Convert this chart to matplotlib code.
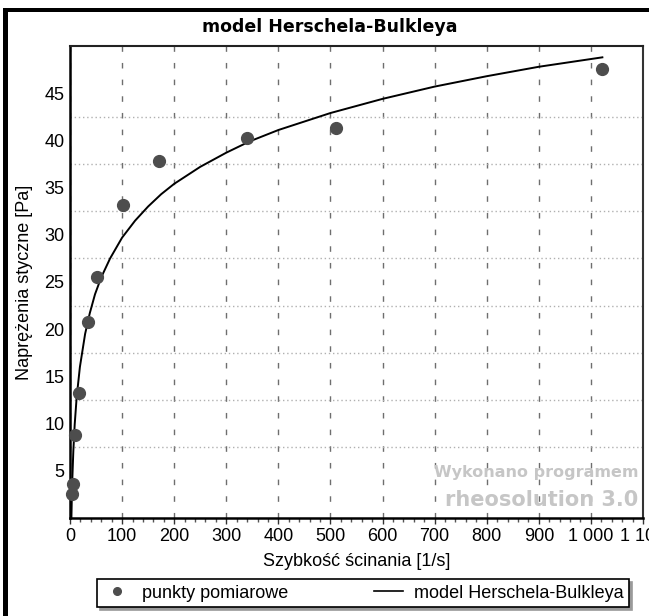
import matplotlib
matplotlib.use("Agg")
import matplotlib.pyplot as plt
from matplotlib.ticker import FixedLocator, MultipleLocator, FuncFormatter
from matplotlib.patches import Rectangle
from matplotlib.lines import Line2D

# measured points (shear rate [1/s], shear stress [Pa])
shear_rate = [3.4, 5.1, 10.2, 17.0, 34.1, 51.1, 102.2, 170.3, 340.6, 510.9, 1021.8]
stress = [2.5, 3.6, 8.8, 13.2, 20.8, 25.5, 33.2, 37.8, 40.3, 41.3, 47.6]

# model curve
model_rate = [2.7, 3.4, 4.5, 6.4, 9, 12.8, 19, 29, 38, 48, 60, 77, 100, 125,
              150, 175, 200, 250, 300, 345, 400, 500, 600, 700, 800, 900, 1022]
model_stress = [0.0, 1.9, 4.2, 7.1, 9.9, 12.8, 16.0, 19.5, 21.7, 23.7, 25.5,
                27.5, 29.7, 31.5, 33.0, 34.3, 35.4, 37.2, 38.7, 39.9, 41.1,
                42.9, 44.4, 45.7, 46.8, 47.8, 48.8]

x_ticks = list(range(0, 1101, 100))
y_ticks = [5, 10, 15, 20, 25, 30, 35, 40, 45]
y_grid = [7.5, 12.5, 17.5, 22.5, 27.5, 32.5, 37.5, 42.5]

title = "model Herschela-Bulkleya"
xlabel = "Szybkość ścinania [1/s]"
ylabel = "Naprężenia styczne [Pa]"
legend_points = "punkty pomiarowe"
legend_model = "model Herschela-Bulkleya"

W, H = 649, 616
fig = plt.figure(figsize=(W / 100, H / 100), dpi=100)
fig.patch.set_facecolor("white")

def fx(px):
    return px / W

def fy(py):
    return 1 - py / H

L, R, T, B = 70, 643, 46, 518
ax = fig.add_axes([fx(L), fy(B), fx(R - L), (B - T) / H])
ax.set_xlim(0, 1100)
ax.set_ylim(0, 50)

ax.plot(model_rate, model_stress, color="black", lw=1.4, zorder=3, clip_on=True,
        solid_joinstyle="round")
ax.plot(shear_rate, stress, linestyle="none", marker="o", ms=8.5,
        color="#4d4d4d", mec="#4d4d4d", zorder=4, clip_on=False)

ax.xaxis.set_major_locator(FixedLocator(x_ticks))
ax.xaxis.set_minor_locator(MultipleLocator(20))
ax.xaxis.set_major_formatter(FuncFormatter(lambda v, p: f"{int(round(v)):,}".replace(",", " ")))
ax.yaxis.set_major_locator(FixedLocator(y_ticks))
ax.yaxis.set_minor_locator(FixedLocator(y_grid))

for lab in ax.get_xticklabels() + ax.get_yticklabels():
    lab.set_fontfamily("Liberation Sans")
    lab.set_fontsize(13)

ax.tick_params(axis="x", which="major", length=4, width=1, color="#333333",
               pad=3, labelsize=13)
ax.tick_params(axis="x", which="minor", length=3, width=1, color="#555555")
ax.tick_params(axis="y", which="both", length=0, pad=4, labelsize=13)

ax.grid(True, axis="x", which="major", color="#6e6e6e", lw=1.0,
        linestyle=(0, (4, 8)))
ax.grid(True, axis="y", which="minor", color="#b0b0b0", lw=1.0,
        linestyle=(0, (1, 2)))
ax.grid(False, axis="y", which="major")
ax.set_axisbelow(True)

for side in ["left", "bottom"]:
    ax.spines[side].set_linewidth(1.8)
    ax.spines[side].set_color("black")
ax.spines["top"].set_linewidth(1.5)
ax.spines["top"].set_color("#222222")
ax.spines["right"].set_linewidth(1.5)
ax.spines["right"].set_color("#333333")

# axis labels
fig.text(fx((L + R) / 2), fy(562), xlabel, ha="center", va="center",
         family="Liberation Sans", size=13)
fig.text(fx(25), fy((T + B) / 2), ylabel, ha="center", va="center",
         rotation=90, family="Liberation Sans", size=13)

# title
fig.text(fx(330), fy(27), title, ha="center", va="center",
         family="DejaVu Sans", weight="bold", size=12.5)

# watermark
fig.text(fx(638), fy(472), "Wykonano programem", ha="right", va="center",
         family="DejaVu Sans", weight="bold", size=11.5, color="#c6c6c6")
fig.text(fx(638), fy(500), "rheosolution 3.0", ha="right", va="center",
         family="DejaVu Sans", weight="bold", size=15, color="#c6c6c6")

# legend
handles = [
    Line2D([], [], linestyle="none", marker="o", ms=5.5, color="#4d4d4d"),
    Line2D([], [], color="black", lw=1.2),
]
leg = fig.legend(handles, [legend_points, legend_model],
                 loc="lower left",
                 bbox_to_anchor=(fx(97), fy(607), fx(629 - 97), (607 - 578) / H),
                 mode="expand", ncol=2, frameon=True, fancybox=False,
                 shadow={"color": "#9a9a9a", "alpha": 1.0},
                 edgecolor="black", borderpad=0.3, handlelength=1.6,
                 handletextpad=0.6, borderaxespad=0,
                 prop={"family": "Liberation Sans", "size": 13})
leg.get_frame().set_linewidth(1.2)

# outer black frame of the window (left and top)
fig.add_artist(Rectangle((fx(3), 0), fx(5), fy(8), transform=fig.transFigure,
                         color="black", lw=0))
fig.add_artist(Rectangle((fx(3), fy(12)), 1, 4 / H, transform=fig.transFigure,
                         color="black", lw=0))

fig.savefig("out.png", dpi=100, facecolor="white")
